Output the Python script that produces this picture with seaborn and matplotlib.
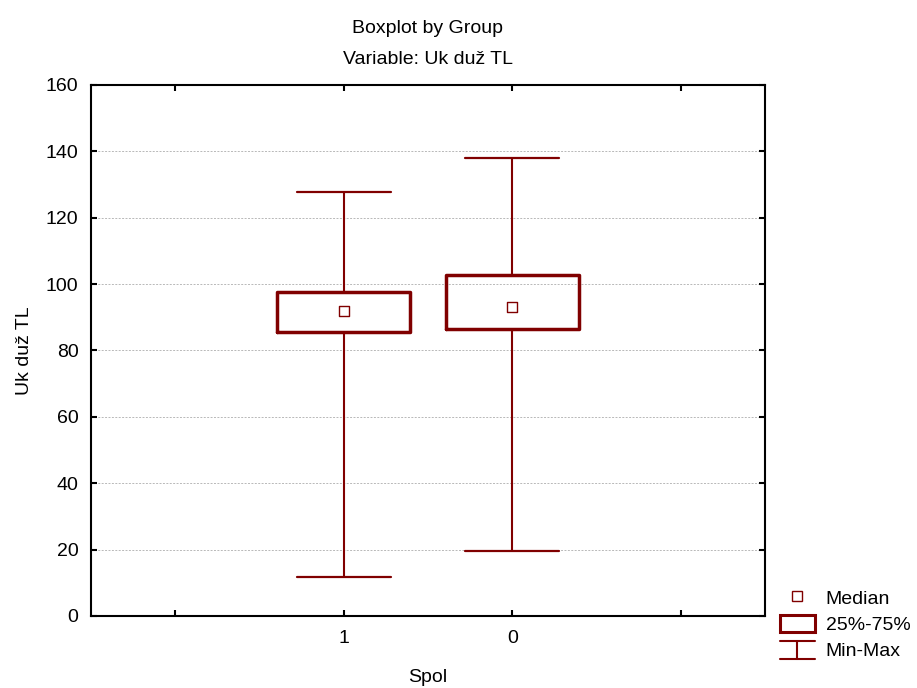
import matplotlib
matplotlib.use('Agg')
import matplotlib.pyplot as plt
import seaborn as sns
import pandas as pd
from matplotlib.legend_handler import HandlerBase
from matplotlib.lines import Line2D
from matplotlib.patches import Rectangle

# summary values, per group (Spol)
groups = ['1', '0']
mins = [11.8, 19.6]
q1s = [85.7, 86.6]
medians = [91.9, 93.0]
q3s = [97.6, 102.8]
maxs = [127.7, 138.0]

title = 'Boxplot by Group\nVariable: Uk duž TL'
ylabel = 'Uk duž TL'
xlabel = 'Spol'
y_ticks = [0, 20, 40, 60, 80, 100, 120, 140, 160]

RED = '#800000'
FS = 14


class MinMaxHandler(HandlerBase):
    # I-beam shaped legend key for the whiskers
    def create_artists(self, legend, orig_handle, xdescent, ydescent,
                       width, height, fontsize, trans):
        x0, x1 = -xdescent, -xdescent + width
        xm = (x0 + x1) / 2
        y0, y1 = -ydescent - 0.05 * height, -ydescent + 1.0 * height
        top = Line2D([x0, x1], [y1, y1], color=RED, lw=1.5, transform=trans)
        stem = Line2D([xm, xm], [y0, y1], color=RED, lw=1.5, transform=trans)
        bot = Line2D([x0, x1], [y0, y0], color=RED, lw=1.5, transform=trans)
        return [top, stem, bot]


def main():
    # five summary values per group -> quartiles of these are exactly q1/median/q3
    rows = []
    for g, a, b, c, d, e in zip(groups, mins, q1s, medians, q3s, maxs):
        for v in (a, b, c, d, e):
            rows.append({'Spol': g, 'val': v})
    df = pd.DataFrame(rows)
    med_df = pd.DataFrame({'Spol': groups, 'val': medians})

    sns.set_style('white')
    plt.rcParams['font.family'] = ['Liberation Sans', 'DejaVu Sans']
    plt.rcParams['text.color'] = 'black'
    plt.rcParams['axes.labelcolor'] = 'black'

    fig = plt.figure(figsize=(9.17, 6.88), dpi=100)
    ax = fig.add_axes([0.0992, 0.1047, 0.7350, 0.7718])

    sns.boxplot(data=df, x='Spol', y='val', order=groups, whis=(0, 100),
                width=0.79, fill=False, color=RED, linewidth=1.6,
                showcaps=True, ax=ax,
                boxprops=dict(color=RED, linewidth=2.5),
                whiskerprops=dict(color=RED, linewidth=1.5),
                capprops=dict(color=RED, linewidth=1.6),
                medianprops=dict(visible=False),
                flierprops=dict(visible=False))
    # widen caps to match the reference
    for line in ax.lines:
        xd = line.get_xdata()
        yd = line.get_ydata()
        if len(xd) == 2 and xd[0] != xd[1] and yd[0] == yd[1]:
            if yd[0] in mins or yd[0] in maxs:
                c = (xd[0] + xd[1]) / 2
                line.set_xdata([c - 0.28, c + 0.28])

    sns.scatterplot(data=med_df, x='Spol', y='val', marker='s', s=45,
                    facecolor='white', edgecolor=RED, linewidth=1.0,
                    ax=ax, zorder=5, legend=False)

    ax.set_xlim(-1.5, 2.5)
    ax.set_ylim(0, 160)
    ax.set_xticks([-1, 0, 1, 2])
    ax.set_xticklabels(['', groups[0], groups[1], ''])
    ax.set_yticks(y_ticks)
    ax.yaxis.grid(True, linestyle=(0, (2, 1.5)), color='#b8b8b8', linewidth=0.7)
    ax.set_axisbelow(True)
    for s in ax.spines.values():
        s.set_visible(True)
        s.set_color('black')
        s.set_linewidth(1.5)
    ax.tick_params(direction='in', length=4, width=1.5, top=True, right=True,
                   bottom=True, left=True, labelsize=FS, colors='black')
    ax.tick_params(axis='x', pad=10)
    ax.tick_params(axis='y', pad=9)

    ax.set_xlabel(xlabel, fontsize=FS, labelpad=16)
    ax.set_ylabel(ylabel, fontsize=FS, labelpad=9)
    ax.set_title(title, fontsize=FS, linespacing=2.1, pad=15, color='black')

    h_med = Line2D([], [], marker='s', linestyle='none', markersize=6.5,
                   markerfacecolor='white', markeredgecolor=RED, markeredgewidth=1.0)
    h_box = Rectangle((0, 0), 1, 1, facecolor='white', edgecolor=RED, linewidth=2.2)
    h_mm = object()
    fig.legend([h_med, h_box, h_mm], ['Median', '25%-75%', 'Min-Max'],
               handler_map={h_mm: MinMaxHandler()},
               loc='upper left', bbox_to_anchor=(0.831, 0.170),
               frameon=False, fontsize=FS, handlelength=1.8, handleheight=1.0,
               handletextpad=0.57, labelspacing=0.35)

    fig.savefig('out.png', dpi=100)


if __name__ == '__main__':
    main()
